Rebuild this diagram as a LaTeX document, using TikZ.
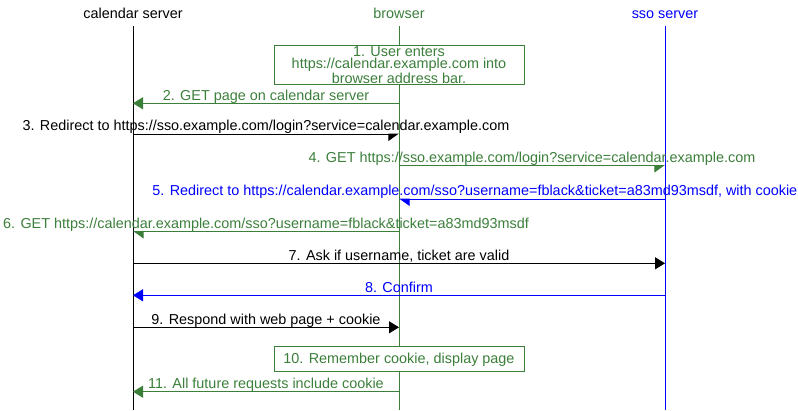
\documentclass[tikz,border=0pt]{standalone}
\usepackage{fontspec}
\setmainfont{Liberation Sans}
\usetikzlibrary{arrows.meta}
\definecolor{grn}{RGB}{59,127,59}
\definecolor{blu}{RGB}{0,0,255}
\tikzset{
  lifeline/.style={line width=1pt},
  msg/.style={line width=1pt,-{Triangle[length=10pt,width=12pt]}},
  msgR/.style={line width=1pt,-{Triangle[length=10pt,width=14pt,right]}},
  msgL/.style={line width=1pt,-{Triangle[length=10pt,width=14pt,left]}},
  lbl/.style={anchor=base,inner sep=0pt,yshift=3.3pt},
  head/.style={anchor=base,inner sep=0pt},
  note/.style={draw=grn,fill=white,text=grn,line width=1pt,minimum width=250pt,align=center,inner sep=0pt}
}
\begin{document}
\begin{tikzpicture}[x=1pt,y=-1pt,font=\fontsize{14.4}{12.5}\selectfont]
\useasboundingbox (0,0) rectangle (798,410);
% headers
\node[head] (cs) at (133,18) {calendar server};
\node[head,text=grn] (br) at (399,18) {browser};
\node[head,text=blu] (sso) at (665,18) {sso server};
% lifelines
\draw[lifeline] (cs |- 0,26) -- (cs |- 0,410);
\draw[lifeline,grn] (br |- 0,26) -- (br |- 0,410);
\draw[lifeline,blu] (sso |- 0,26) -- (sso |- 0,410);
% 1
\node[note,minimum height=38.3pt] (n1) at (399,64.85) {1. User enters\\https://calendar.example.com into\\browser address bar.};
% 2
\draw[msg,grn] (br |- 0,103.3) -- node[lbl,text=grn] {2. GET page on calendar server} (cs |- 0,103.3);
% 3
\draw[msgR] (cs |- 0,134) -- node[lbl] {3. Redirect to https://sso.example.com/login?service=calendar.example.com} (br |- 0,134);
% 4
\draw[msgR,grn] (br |- 0,165.5) -- node[lbl,text=grn] {4. GET https://sso.example.com/login?service=calendar.example.com} (sso |- 0,165.5);
% 5
\draw[msgL,blu] (sso |- 0,199) -- (br |- 0,199);
\node[anchor=base east,inner sep=0pt,text=blu] (l5) at (797.5,195.7) {5. Redirect to https://calendar.example.com/sso?username=fblack\&ticket=a83md93msdf, with cookie};
% 6
\draw[msgL,grn] (br |- 0,231.5) -- node[lbl,text=grn] {6. GET https://calendar.example.com/sso?username=fblack\&ticket=a83md93msdf} (cs |- 0,231.5);
% 7
\draw[msg] (cs |- 0,263.3) -- node[lbl] {7. Ask if username, ticket are valid} (sso |- 0,263.3);
% 8
\draw[msg,blu] (sso |- 0,295.3) -- node[lbl,text=blu] {8. Confirm} (cs |- 0,295.3);
% 9
\draw[msg] (cs |- 0,327.3) -- node[lbl] {9. Respond with web page + cookie} (br |- 0,327.3);
% 10
\node[note,minimum height=25.3pt] (n10) at (399,359.3) {10. Remember cookie, display page};
% 11
\draw[msg,grn] (br |- 0,391.7) -- node[lbl,text=grn] {11. All future requests include cookie} (cs |- 0,391.7);
\end{tikzpicture}
\end{document}
